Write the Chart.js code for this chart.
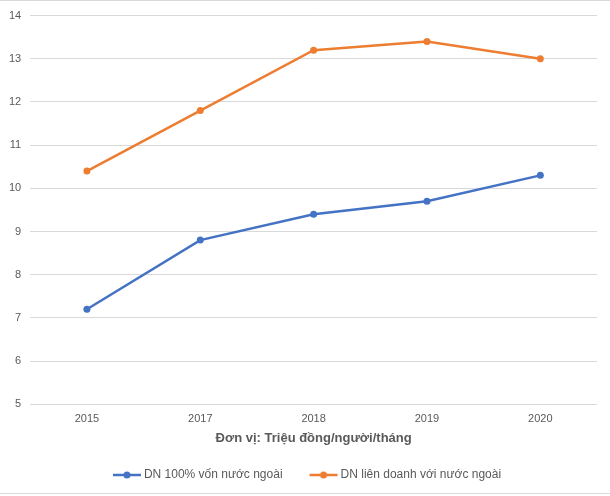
<!DOCTYPE html>
<html><head><meta charset="utf-8">
<script src="https://cdn.jsdelivr.net/npm/chart.js@4"></script>
<style>
html,body{margin:0;padding:0;background:#fff;}
#wrap{position:relative;width:610px;height:496px;}
#top{position:absolute;left:0;top:0;width:610px;height:1px;background:#d9d9d9;}
#bot{position:absolute;left:0;top:493px;width:610px;height:1px;background:#d9d9d9;}
canvas{position:absolute;left:0;top:0;}
</style></head>
<body><div id="wrap"><canvas id="c" width="610" height="496"></canvas><div id="top"></div><div id="bot"></div></div>
<script>
const categories = ['2015','2017','2018','2019','2020'];
const seriesNames = ['DN 100% vốn nước ngoài','DN liên doanh với nước ngoài'];
const series100 = [7.2, 8.8, 9.4, 9.7, 10.3];
const seriesJV = [10.4, 11.8, 13.2, 13.4, 13.0];
const yTicks = [5,6,7,8,9,10,11,12,13,14];
const axisTitle = 'Đơn vị: Triệu đồng/người/tháng';
const colors = ['#4472C4','#ED7D31'];
const FONT = "'Liberation Sans',Arial,sans-serif";

function legendIcon(col){
  const c=document.createElement('canvas');c.width=50;c.height=10;
  const x=c.getContext('2d');
  x.strokeStyle=col;x.lineWidth=2.5;x.beginPath();x.moveTo(21,5);x.lineTo(49,5);x.stroke();
  x.fillStyle=col;x.beginPath();x.arc(35,5,3.5,0,Math.PI*2);x.fill();
  return c;
}
const icons = colors.map(legendIcon);

new Chart(document.getElementById('c'),{
  type:'line',
  data:{labels:categories,datasets:[
    {label:seriesNames[0],data:series100,borderColor:colors[0],backgroundColor:colors[0],borderWidth:2.5,pointRadius:3.5,pointBackgroundColor:colors[0],pointBorderWidth:0,pointStyle:'circle'},
    {label:seriesNames[1],data:seriesJV,borderColor:colors[1],backgroundColor:colors[1],borderWidth:2.5,pointRadius:3.5,pointBackgroundColor:colors[1],pointBorderWidth:0,pointStyle:'circle'}
  ]},
  options:{
    responsive:false,animation:false,
    layout:{padding:{left:0,right:13,top:3,bottom:5}},
    plugins:{
      legend:{position:'bottom',labels:{
        usePointStyle:true,pointStyleWidth:42,color:'#595959',font:{family:FONT,size:12},padding:10,
        generateLabels:(ch)=>ch.data.datasets.map((d,i)=>({text:d.label,pointStyle:icons[i],fillStyle:colors[i],strokeStyle:colors[i],lineWidth:0,datasetIndex:i,fontColor:'#595959'}))
      }},
      tooltip:{enabled:false}
    },
    scales:{
      x:{offset:true,grid:{display:false},border:{display:false},
        ticks:{color:'#595959',font:{family:FONT,size:11},padding:0},
        title:{display:true,text:axisTitle,color:'#595959',font:{family:FONT,size:13,weight:'bold'},padding:{top:5,bottom:13}}},
      y:{min:5,max:14,grid:{color:'#d9d9d9',drawTicks:false},border:{display:false},
        afterBuildTicks:(s)=>{s.ticks=yTicks.map(v=>({value:v}));},
        ticks:{color:'#595959',font:{family:FONT,size:11},padding:9}}
    }
  }
});
</script></body></html>
